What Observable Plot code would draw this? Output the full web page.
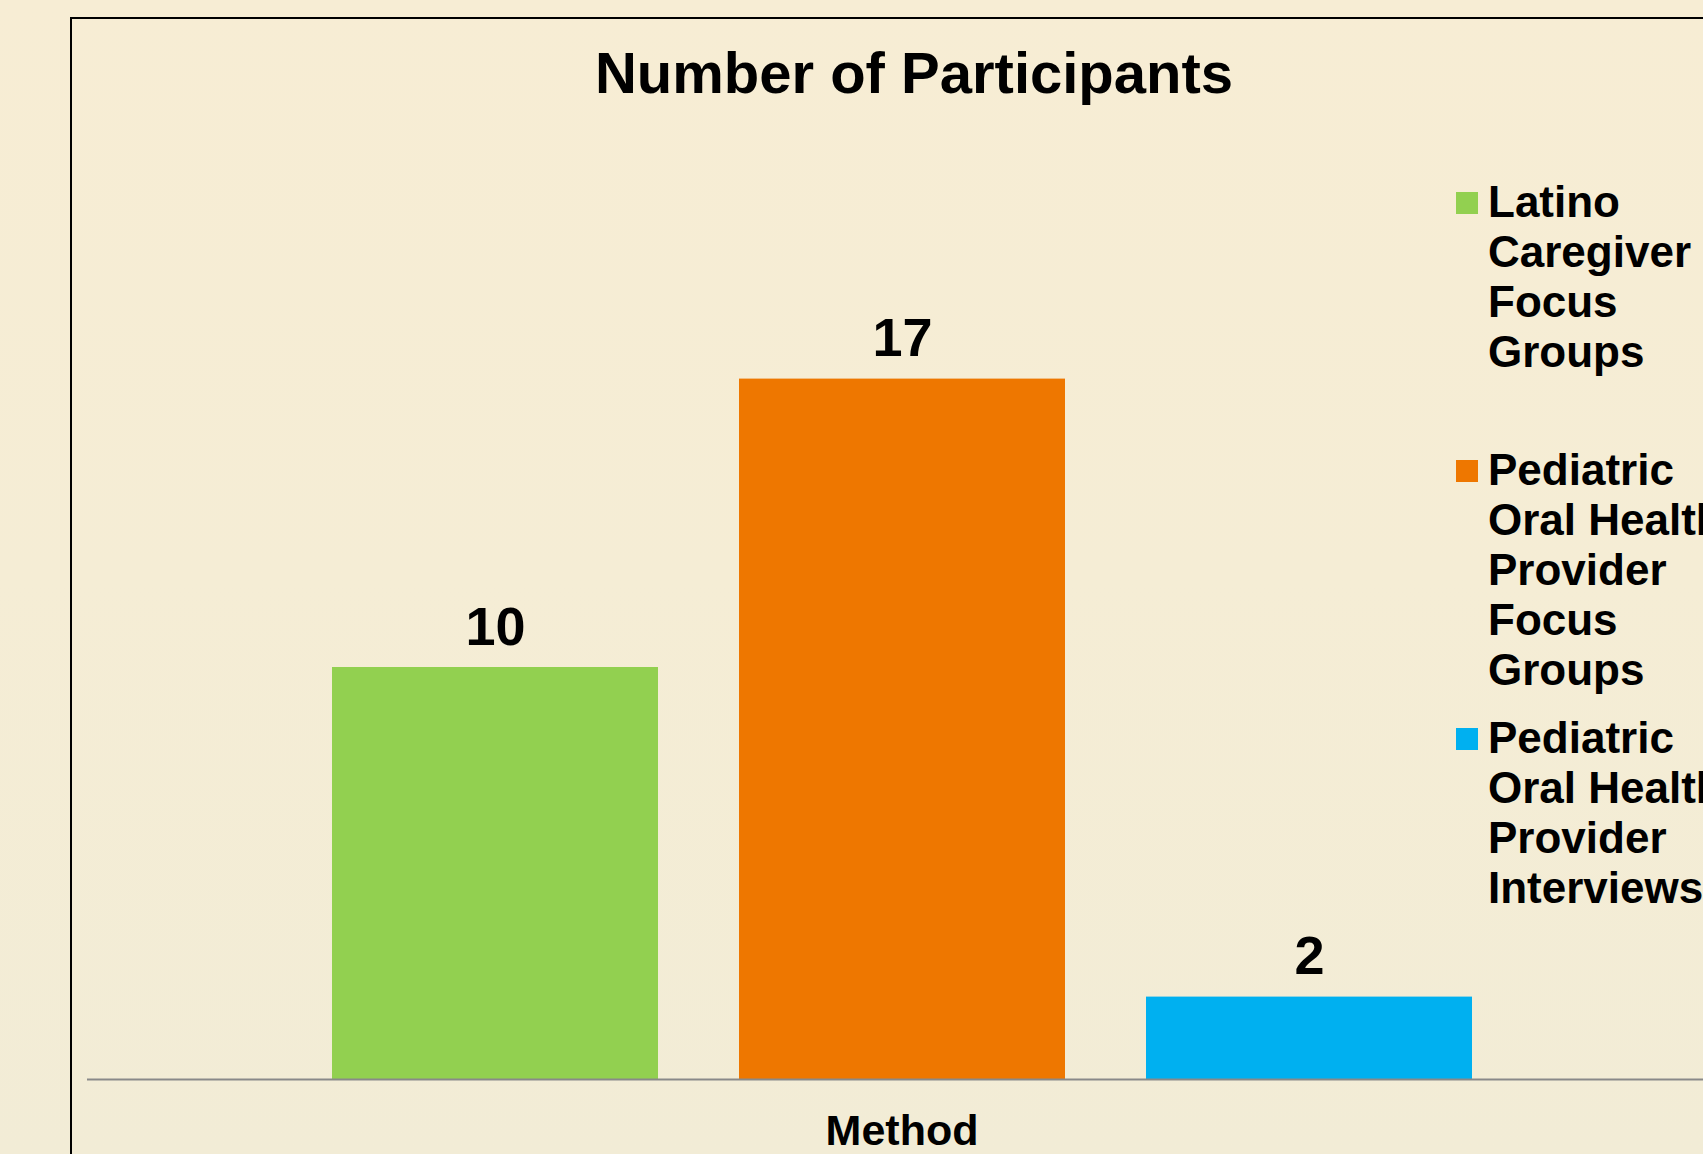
<!DOCTYPE html>
<html>
<head>
<meta charset="utf-8">
<script src="https://cdn.jsdelivr.net/npm/d3@7"></script>
<script src="https://cdn.jsdelivr.net/npm/@observablehq/plot@0.6"></script>
<style>
  html, body { margin: 0; padding: 0; }
  body {
    width: 1703px; height: 1154px; overflow: hidden; position: relative;
    background: linear-gradient(to bottom, #F7EDD4 0%, #F5EDD5 50%, #F2ECD6 100%);
    font-family: "Liberation Sans", Arial, sans-serif;
  }
  #frame {
    position: absolute; left: 70px; top: 17px; width: 2000px; height: 2000px;
    border: 2px solid #000; box-sizing: border-box;
  }
  #title {
    position: absolute; left: 0; top: 44px; width: 1828px; text-align: center;
    font-size: 58px; line-height: 58px; font-weight: bold; color: #000; white-space: nowrap;
  }
  #chart { position: absolute; left: 0; top: 0; width: 1760px; height: 1154px; }
  #chart svg { max-width: none !important; width: 1760px !important; height: 1154px !important; }
  #legend { position: absolute; left: 1456px; top: 177px; }
  .item { position: relative; height: 268px; width: 300px; }
  .swatch { position: absolute; left: 0; top: 15px; width: 22px; height: 22px; }
  .label {
    position: absolute; left: 32px; top: 0; width: 250px;
    font-size: 44px; line-height: 50px; font-weight: bold; color: #000;
  }
</style>
</head>
<body>
<div id="frame"></div>
<div id="title"></div>
<div id="chart"></div>
<div id="legend"></div>
<script>
const titleText = "Number of Participants";
const categories = ["Method"];
const series = [
  "Latino Caregiver Focus Groups",
  "Pediatric Oral Health Provider Focus Groups",
  "Pediatric Oral Health Provider Interviews"
];
const values = [10, 17, 2];
const colors = ["#92D050", "#EE7700", "#00B0F0"];

const data = series.map((s, i) => ({method: categories[0], series: s, value: values[i]}));

document.getElementById("title").textContent = titleText;

const chart = Plot.plot({
  width: 1760,
  height: 1154,
  marginLeft: 87,
  marginRight: 44,
  marginTop: 255,
  marginBottom: 75,
  style: {background: "transparent", fontFamily: "'Liberation Sans', Arial, sans-serif", color: "#000", maxWidth: "none"},
  fx: {domain: categories, padding: 0, label: null},
  x: {domain: series, paddingInner: 0.2, paddingOuter: 0.6, axis: null},
  y: {domain: [0, 20], axis: null},
  color: {domain: series, range: colors},
  marks: [
    Plot.barY(data, {fx: "method", x: "series", y: "value", fill: "series"}),
    Plot.ruleY([0], {stroke: "#898989", strokeWidth: 2}),
    Plot.text(data, {
      fx: "method", x: "series", y: "value", text: d => String(d.value),
      lineAnchor: "bottom", dy: -23, fontSize: 54, fontWeight: "bold", fill: "#000"
    }),
    Plot.axisFx({
      anchor: "bottom", tickSize: 0, tickPadding: 35, label: null,
      fontSize: 43, fontWeight: "bold", fill: "#000"
    })
  ]
});
document.getElementById("chart").appendChild(chart);

const legend = document.getElementById("legend");
series.forEach((s, i) => {
  const item = document.createElement("div");
  item.className = "item";
  const sw = document.createElement("div");
  sw.className = "swatch";
  sw.style.background = colors[i];
  const lb = document.createElement("div");
  lb.className = "label";
  lb.textContent = s;
  item.appendChild(sw);
  item.appendChild(lb);
  legend.appendChild(item);
});
</script>
</body>
</html>
